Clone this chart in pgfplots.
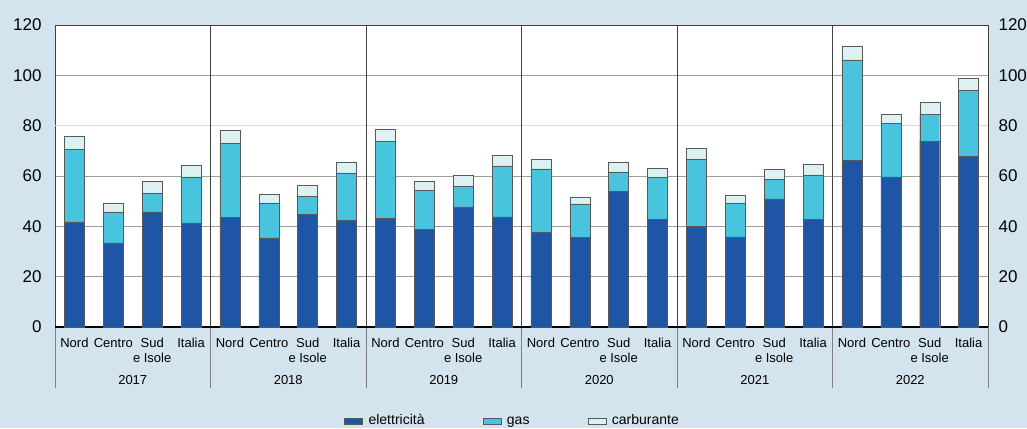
\documentclass[border=0pt]{standalone}
\usepackage{fontspec}
\setmainfont{Liberation Sans}
\usepackage{pgfplots}
\usepackage{pgfplotstable}
\pgfplotsset{compat=1.18}
\definecolor{bg}{HTML}{D3E4EE}
\definecolor{elec}{HTML}{1E56A5}
\definecolor{gas}{HTML}{48C4DE}
\definecolor{carb}{HTML}{DDF0F2}
\definecolor{sep}{HTML}{404040}

% x = bar position (4 per year: Nord, Centro, Sud e Isole, Italia)
\pgfplotstableread{
x  elec gas  carb
0  41.8 28.9 5.2
1  33.4 12.3 3.6
2  45.7  7.5 4.7
3  41.4 18.3 4.7
4  43.7 29.4 5.2
5  35.4 13.9 3.5
6  44.7  7.2 4.5
7  42.5 18.7 4.4
8  43.3 30.6 4.8
9  38.7 15.7 3.6
10 47.8  8.1 4.5
11 43.8 20.2 4.3
12 37.5 25.3 3.9
13 35.6 13.3 2.7
14 54.0  7.6 3.8
15 42.9 16.7 3.6
16 40.1 26.6 4.3
17 35.8 13.5 3.1
18 50.9  7.9 4.0
19 42.9 17.5 4.1
20 66.3 39.8 5.5
21 59.7 21.1 3.8
22 73.9 10.7 4.8
23 67.7 26.2 4.9
}\data

\begin{document}
\begin{tikzpicture}
\useasboundingbox (0,0) rectangle (1027pt,428pt);
\fill[bg] (0,0) rectangle (1027pt,428pt);
\begin{axis}[
    at={(55pt,101pt)}, anchor=south west,
    scale only axis, width=933pt, height=302pt,
    xmin=-0.5, xmax=23.5, ymin=0, ymax=120,
    ybar stacked, bar width=20pt,
    axis background/.style={fill=white},
    ytick={0,20,40,60,100,120},
    extra y ticks={80},
    extra y tick style={grid style={gray!30, line width=1.6pt}},
    ymajorgrids, grid style={gray!75, line width=0.6pt},
    major tick length=0pt,
    xtick={0,...,23},
    xticklabels={Nord,Centro,{Sud\\e Isole},Italia,
                 Nord,Centro,{Sud\\e Isole},Italia,
                 Nord,Centro,{Sud\\e Isole},Italia,
                 Nord,Centro,{Sud\\e Isole},Italia,
                 Nord,Centro,{Sud\\e Isole},Italia,
                 Nord,Centro,{Sud\\e Isole},Italia},
    xticklabel style={align=center, font=\fontsize{13}{15}\selectfont, yshift=-8pt},
    yticklabel style={font=\fontsize{17}{20}\selectfont, xshift=-10pt},
    /pgf/number format/assume math mode=true,
    axis line style={sep, line width=0.6pt},
    every axis plot/.append style={draw=gray!70!black, line width=0.4pt},
    clip=false,
    legend columns=3,
    legend style={at={(0.5,0)}, anchor=center, xshift=-9pt, yshift=-94pt,
        draw=none, fill=none, font=\fontsize{14}{16}\selectfont,
        nodes={text height=10pt, text depth=3pt},
        /tikz/every odd column/.append style={column sep=4pt},
        /tikz/every even column/.append style={column sep=56pt},
        /tikz/column 4/.append style={column sep=65pt}},
    legend image code/.code={\draw[#1] (0pt,-3.5pt) rectangle (18pt,3.3pt);},
]
\addplot[fill=elec] table[x=x, y=elec] {\data};
\addplot[fill=gas]  table[x=x, y=gas]  {\data};
\addplot[fill=carb] table[x=x, y=carb] {\data};
\legend{elettricità, gas, carburante}

\draw[black, line width=1.2pt] (axis cs:-0.5,0) -- (axis cs:23.5,0);
\pgfplotsinvokeforeach{3.5,7.5,11.5,15.5,19.5}{
  \draw[sep, line width=0.6pt] (axis cs:#1,0) -- (axis cs:#1,120);
}
\pgfplotsinvokeforeach{-0.5,3.5,7.5,11.5,15.5,19.5,23.5}{
  \draw[gray, line width=0.8pt] (axis cs:#1,0) -- ([yshift=-61pt]axis cs:#1,0);
}
\pgfplotsinvokeforeach{2017,2018,2019,2020,2021,2022}{
  \node[font=\fontsize{13}{15}\selectfont, yshift=-53pt]
    at (axis cs:{(#1-2017)*4+1.5},0) {#1};
}
\end{axis}
\begin{axis}[
    at={(55pt,101pt)}, anchor=south west,
    scale only axis, width=933pt, height=302pt,
    xmin=0, xmax=1, ymin=0, ymax=120,
    axis y line*=right, axis x line=none,
    ytick={0,20,...,120},
    major tick length=0pt,
    yticklabel style={font=\fontsize{17}{20}\selectfont, xshift=7pt},
    /pgf/number format/assume math mode=true,
    axis line style={sep, line width=0.6pt},
]
\end{axis}
\end{tikzpicture}
\end{document}
